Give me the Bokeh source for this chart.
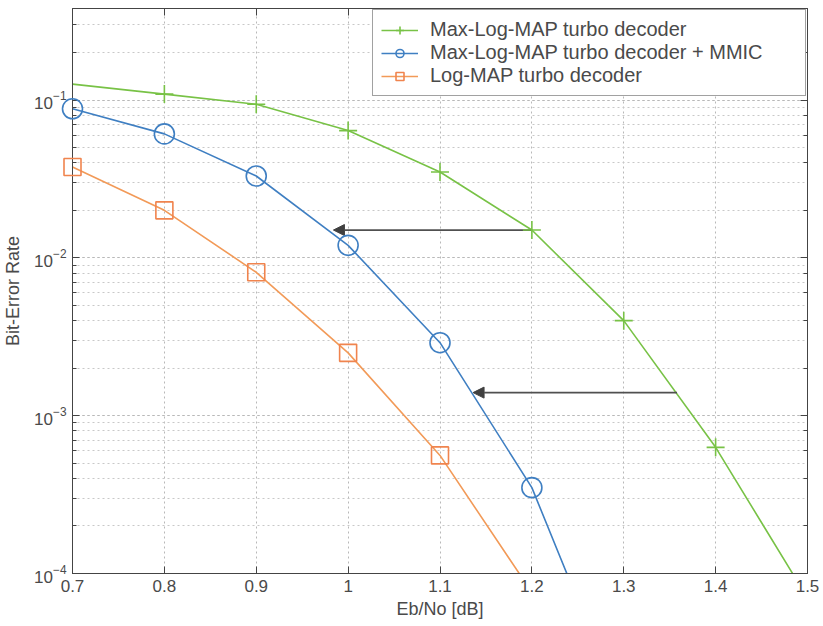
from bokeh.plotting import figure
from bokeh.models import (LogAxis, LinearAxis, FixedTicker, Arrow, NormalHead,
                          Range1d, LogTicker)
from bokeh.embed import file_html
from bokeh.resources import INLINE

# ---- data ----
ebno = [0.7, 0.8, 0.9, 1.0, 1.1, 1.2, 1.3, 1.4, 1.5]
ber_maxlog = [0.126, 0.109, 0.094, 0.064, 0.035, 0.015, 0.0040, 0.00063, 0.00007]
ber_maxlog_mmic = [0.088, 0.061, 0.033, 0.012, 0.0029, 0.00035, 0.000013]
ber_logmap = [0.0376, 0.020, 0.0081, 0.0025, 0.00056, 0.000076]

labels = ["Max-Log-MAP turbo decoder",
          "Max-Log-MAP turbo decoder + MMIC",
          "Log-MAP turbo decoder"]
colors = ["#78c246", "#3f7fc2", "#f29a58"]

x_ticks = [0.7, 0.8, 0.9, 1.0, 1.1, 1.2, 1.3, 1.4, 1.5]
x_tick_labels = ["0.7", "0.8", "0.9", "1", "1.1", "1.2", "1.3", "1.4", "1.5"]

# arrows: (y, x_start, x_end)
arrow_y = [0.015, 0.0014]
arrow_x_start = [1.2, 1.358]
arrow_x_end = [0.984, 1.136]

FONT = "Liberation Sans"
TXT = "#4a4a4a"

p = figure(width=823, height=626, y_axis_type="log",
           x_range=Range1d(0.7, 1.5), y_range=Range1d(1e-4, 0.38),
           output_backend="svg", toolbar_location=None,
           min_border_left=72, min_border_right=16,
           min_border_top=8, min_border_bottom=53,
           x_axis_label="Eb/No [dB]", y_axis_label="Bit-Error Rate")
p.background_fill_color = "white"
p.outline_line_color = "#444444"

# grid
p.xgrid.ticker = FixedTicker(ticks=x_ticks)
p.xgrid.grid_line_color = "#b8b8b8"
p.xgrid.grid_line_dash = "2 3"
p.ygrid.grid_line_color = "#b8b8b8"
p.ygrid.grid_line_dash = "2 3"
p.ygrid.minor_grid_line_color = "#c8c8c8"
p.ygrid.minor_grid_line_dash = "2 3"

# axes
xa = p.xaxis[0]
xa.ticker = FixedTicker(ticks=x_ticks)
xa.major_label_overrides = {t: l for t, l in zip(x_ticks, x_tick_labels)}
ya = p.yaxis[0]
for ax in (xa, ya):
    ax.axis_line_color = "#444444"
    ax.major_tick_line_color = "#444444"
    ax.minor_tick_line_color = "#444444"
    ax.major_tick_in = 7
    ax.major_tick_out = 0
    ax.minor_tick_in = 4
    ax.minor_tick_out = 0
    ax.major_label_text_font = FONT
    ax.major_label_text_font_size = "17px"
    ax.major_label_text_color = TXT
    ax.axis_label_text_font = FONT
    ax.axis_label_text_font_size = "18px"
    ax.axis_label_text_font_style = "normal"
    ax.axis_label_text_color = TXT
xa.minor_tick_line_color = None
xa.major_label_standoff = 6
xa.axis_label_standoff = 4
ya.major_label_standoff = 6
ya.axis_label_standoff = 8

top = LinearAxis(ticker=FixedTicker(ticks=x_ticks), major_tick_in=7, major_tick_out=0,
                 minor_tick_line_color=None, major_label_text_color=None,
                 major_label_text_font_size="1px",
                 major_label_standoff=0, axis_line_color="#444444",
                 major_tick_line_color="#444444")
p.add_layout(top, "above")
right = LogAxis(ticker=LogTicker(), major_tick_in=7, major_tick_out=0,
                minor_tick_in=4, minor_tick_out=0,
                major_label_text_color=None, major_label_text_font_size="1px",
                major_label_standoff=0,
                axis_line_color="#444444", major_tick_line_color="#444444",
                minor_tick_line_color="#444444")
p.add_layout(right, "right")

# curves
p.line(ebno[:len(ber_maxlog)], ber_maxlog, color=colors[0], line_width=1.6, legend_label=labels[0])
p.scatter(ebno[1:len(ber_maxlog)], ber_maxlog[1:], marker="cross", size=18,
          line_color=colors[0], line_width=1.6, legend_label=labels[0], level="overlay")

p.line(ebno[:len(ber_maxlog_mmic)], ber_maxlog_mmic, color=colors[1], line_width=1.6, legend_label=labels[1])
p.scatter(ebno[:6], ber_maxlog_mmic[:6], marker="circle", size=20, fill_color=None,
          line_color=colors[1], line_width=1.6, legend_label=labels[1], level="overlay")

p.line(ebno[:len(ber_logmap)], ber_logmap, color=colors[2], line_width=1.6, legend_label=labels[2])
p.scatter(ebno[:5], ber_logmap[:5], marker="square", size=17, fill_color=None,
          line_color="#f0844e", line_width=1.6, legend_label=labels[2], level="overlay")

# arrows
for yv, xs, xe in zip(arrow_y, arrow_x_start, arrow_x_end):
    p.add_layout(Arrow(x_start=xs, y_start=yv, x_end=xe, y_end=yv,
                       line_color="#505050", line_width=1.8,
                       end=NormalHead(size=11, fill_color="#404040",
                                      line_color="#404040")))

# legend
lg = p.legend[0]
lg.location = "top_right"
lg.margin = 1
lg.padding = 8
lg.spacing = 0
lg.glyph_width = 37
lg.glyph_height = 20
lg.label_height = 20
lg.label_width = 367
lg.label_standoff = 12
lg.label_text_font = FONT
lg.label_text_font_size = "20px"
lg.label_text_color = TXT
lg.border_line_color = "#444444"
lg.border_line_width = 1
lg.background_fill_alpha = 1.0

open("out.html", "w").write(file_html(p, INLINE))
